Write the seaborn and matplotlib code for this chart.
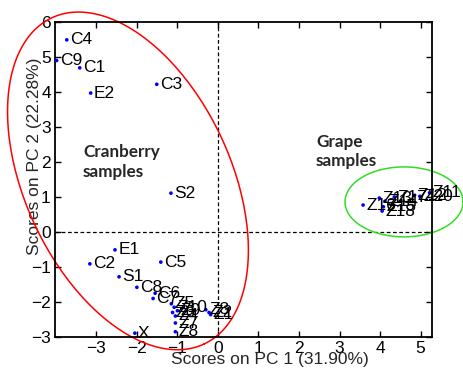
import matplotlib
matplotlib.use('Agg')

import numpy as np
import pandas as pd
import matplotlib.pyplot as plt
import seaborn as sns

# scores
labels = ['C4', 'C9', 'C1', 'E2', 'C3', 'S2', 'E1', 'C2', 'C5', 'S1', 'C8', 'C6', 'C7', 'X',
          'Z5', 'Z10', 'Z9', 'Z6', 'Z4', 'Z7', 'Z8', 'Z3', 'Z2', 'Z1',
          'Z16', 'Z13', 'Z15', 'Z14', 'Z18', 'Z17', 'Z12', 'Z20', 'Z11']
pc1 = [-3.73, -3.98, -3.41, -3.14, -1.51, -1.16, -2.54, -3.16, -1.41, -2.44, -2.00, -1.55, -1.60, -2.05,
       -1.15, -1.08, -1.00, -1.12, -1.05, -1.05, -1.05, -0.30, -0.22, -0.18,
       3.58, 3.98, 4.08, 4.12, 4.05, 4.35, 4.85, 4.98, 5.22]
pc2 = [5.49, 4.90, 4.69, 3.97, 4.22, 1.11, -0.51, -0.91, -0.86, -1.28, -1.58, -1.75, -1.90, -2.89,
       -2.05, -2.15, -2.25, -2.30, -2.40, -2.60, -2.85, -2.22, -2.30, -2.36,
       0.77, 0.97, 0.72, 0.88, 0.60, 1.00, 1.05, 1.02, 1.12]

xticks = [-3, -2, -1, 0, 1, 2, 3, 4, 5]
yticks = [-3, -2, -1, 0, 1, 2, 3, 4, 5, 6]

df = pd.DataFrame({'PC1': pc1, 'PC2': pc2, 'label': labels})

sns.set_style('ticks')
plt.rcParams['font.family'] = ['Liberation Sans', 'DejaVu Sans']
plt.rcParams['xtick.direction'] = 'in'
plt.rcParams['ytick.direction'] = 'in'

fig = plt.figure(figsize=(4.64, 3.73), dpi=100)
ax = fig.add_axes([55 / 464, 36 / 373, 377 / 464, 315 / 373])

sns.scatterplot(data=df, x='PC1', y='PC2', ax=ax, color='#0000ff', s=7,
                edgecolor='none', zorder=3)

for _, r in df.iterrows():
    ax.text(r.PC1 + 0.08, r.PC2, r.label, fontsize=12.5, va='center', ha='left',
            color='black', zorder=4)

ax.axvline(0, color='black', ls='--', lw=0.9, dashes=(3, 2))
ax.axhline(0, color='black', ls='--', lw=0.9, dashes=(3, 2))

ax.set_xlim(-4.02, 5.28)
ax.set_ylim(-3, 6)
ax.set_xticks(xticks)
ax.set_yticks(yticks)
ax.tick_params(labelsize=12.5, top=True, right=True, length=4, width=1, colors='black', pad=3)
for s in ax.spines.values():
    s.set_visible(True)
    s.set_linewidth(1.3)
    s.set_color('black')

ax.set_xlabel('Scores on PC 1 (31.90%)', fontsize=12.5)
ax.set_ylabel('Scores on PC 2 (22.28%)', fontsize=12.5)
ax.xaxis.set_label_coords((270 - 55) / 377, -(352 - 337) / 315)
ax.yaxis.set_label_coords(-(55 - 42) / 377, (337 - 156) / 315)

# group ellipses, sized in pixels then put in data units
xs = 377 / (5.28 + 4.02)
ys = 315 / 9.0
t = np.linspace(0, 2 * np.pi, 200)
th = np.deg2rad(65)
a, b = 180, 103
ex = -2.22 + (a * np.cos(t) * np.cos(th) - b * np.sin(t) * np.sin(th)) / xs
ey = 1.46 - (a * np.cos(t) * np.sin(th) + b * np.sin(t) * np.cos(th)) / ys
ax.plot(ex, ey, color='red', lw=1.1, clip_on=False)

gx = 4.59 + 59 * np.cos(t) / xs
gy = 0.86 + 35 * np.sin(t) / ys
ax.plot(gx, gy, color='#33dd22', lw=1.1, clip_on=False)

ax.text(-3.33, 2.0, 'Cranberry\nsamples', fontsize=12.3, fontweight='bold',
        family=['Lato', 'DejaVu Sans'], va='center', ha='left', linespacing=1.3)
ax.text(2.42, 2.3, 'Grape\nsamples', fontsize=12.3, fontweight='bold',
        family=['Lato', 'DejaVu Sans'], va='center', ha='left', linespacing=1.3)

fig.savefig('out.png', dpi=100)
